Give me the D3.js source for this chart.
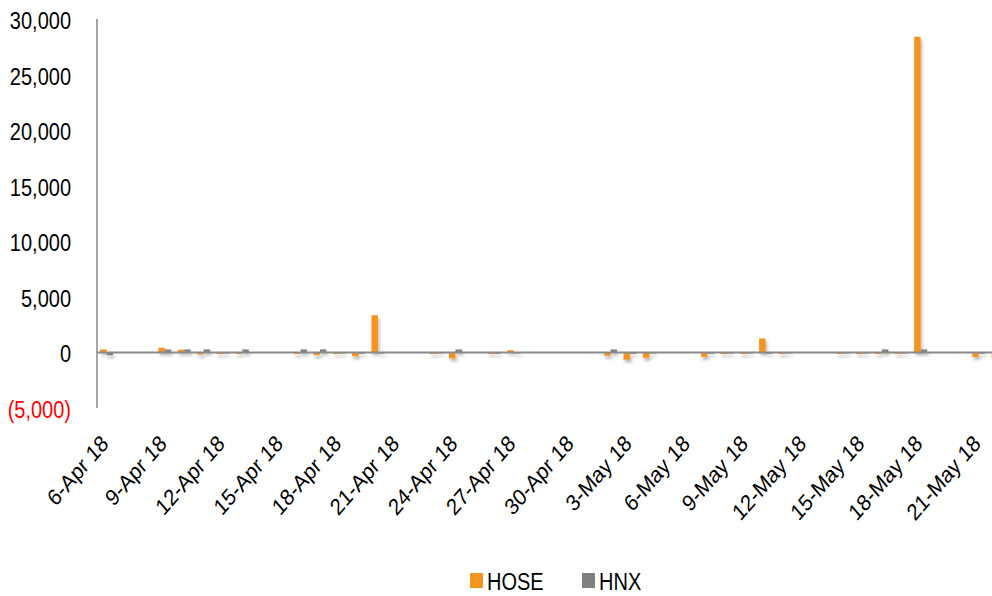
<!DOCTYPE html>
<html>
<head>
<meta charset="utf-8">
<script src="https://cdn.jsdelivr.net/npm/d3@7"></script>
<style>
  html, body { margin: 0; padding: 0; background: #fff; }
  svg { display: block; }
  text { font-family: "Liberation Sans", Arial, sans-serif; font-size: 20px; fill: #000; }
</style>
</head>
<body>
<script>
// ---- data ----
const dates = ["2018-04-06","2018-04-09","2018-04-10","2018-04-11","2018-04-12","2018-04-13",
  "2018-04-16","2018-04-17","2018-04-18","2018-04-19","2018-04-20","2018-04-23","2018-04-24",
  "2018-04-26","2018-04-27","2018-05-02","2018-05-03","2018-05-04","2018-05-07","2018-05-08",
  "2018-05-09","2018-05-10","2018-05-11","2018-05-14","2018-05-15","2018-05-16","2018-05-17",
  "2018-05-18","2018-05-21","2018-05-22"];
const hose = [270, 420, 240, -200, -150, -150, -150, -250, -150, -350, 3350, -150, -540,
  -150, 200, -300, -650, -480, -400, -150, -150, 1260, -150, -150, -150, -150, -150,
  28400, -400, -500];
const hnx = [-250, 270, 270, 270, -100, 270, 270, 270, -100, -120, -100, -100, 270,
  -120, -100, 270, -120, -100, -120, -100, -100, -120, -100, -100, -100, 270, -100,
  270, -120, -120];
const seriesNames = ["HOSE", "HNX"];
const colors = ["#F7941E", "#808080"];
const yTicks = [-5000, 0, 5000, 10000, 15000, 20000, 25000, 30000];
const axisStart = "2018-04-06", axisEnd = "2018-05-22";
const labelEveryDays = 3;

// ---- chart ----
const W = 992, H = 596;
const svg = d3.select("body").append("svg").attr("width", W).attr("height", H);

const defs = svg.append("defs");
const f = defs.append("filter").attr("id", "shadow").attr("x", "-50%").attr("y", "-50%")
  .attr("width", "200%").attr("height", "200%");
f.append("feDropShadow").attr("dx", 1.5).attr("dy", 3).attr("stdDeviation", 1.6)
  .attr("flood-color", "#000").attr("flood-opacity", 0.28);

const parse = d3.utcParse("%Y-%m-%d");
const fmtDay = d3.utcFormat("%-d-%b %y");
const allDays = d3.utcDay.range(parse(axisStart), d3.utcDay.offset(parse(axisEnd), 1));
const dayKey = d3.utcFormat("%Y-%m-%d");

const slot = 19.38;
const x0 = 97;
const x = d3.scaleBand().domain(allDays.map(dayKey))
  .range([x0, x0 + allDays.length * slot]).padding(0);
const xi = d3.scaleBand().domain(seriesNames).range([3.2, slot - 3.2]).padding(0);
const y = d3.scaleLinear().domain([-5000, 30000]).range([408, 19]);

// bars
const rows = dates.map((d, i) => ({ d, v: [hose[i], hnx[i]] }));
const g = svg.append("g").attr("filter", "url(#shadow)");
seriesNames.forEach((s, si) => {
  g.selectAll(null).data(rows).enter().append("rect")
    .attr("x", r => x(r.d) + xi(s))
    .attr("width", xi.bandwidth())
    .attr("y", r => y(Math.max(0, r.v[si])))
    .attr("height", r => Math.abs(y(r.v[si]) - y(0)))
    .attr("fill", colors[si]);
});

// zero line
svg.append("line").attr("x1", x0).attr("x2", W).attr("y1", y(0)).attr("y2", y(0))
  .attr("stroke", "#8a8a8a").attr("stroke-width", 2);
// y axis line
svg.append("line").attr("x1", x0).attr("x2", x0).attr("y1", y(30000)).attr("y2", y(-5000))
  .attr("stroke", "#8a8a8a").attr("stroke-width", 1.5);

// y labels
const fmtNum = d3.format(",");
svg.selectAll(null).data(yTicks).enter().append("text")
  .attr("transform", v => `translate(71,${y(v) + 2}) scale(1,1.15)`)
  .attr("text-anchor", "end").attr("dominant-baseline", "central")
  .style("fill", v => v < 0 ? "#FF0000" : "#000")
  .text(v => v < 0 ? `(${fmtNum(-v)})` : fmtNum(v));

// x labels
const labelDays = allDays.filter((d, i) => i % labelEveryDays === 0 && d <= parse("2018-05-21"));
svg.selectAll(null).data(labelDays).enter().append("text")
  .attr("transform", d => `translate(${x(dayKey(d)) + x.bandwidth() / 2 + 3},445) scale(1,1.15) rotate(-45)`)
  .attr("text-anchor", "end")
  .text(d => fmtDay(d));

// legend
const legX = [470, 582];
seriesNames.forEach((s, i) => {
  svg.append("rect").attr("x", legX[i]).attr("y", 573).attr("width", 13).attr("height", 15)
    .attr("fill", colors[i]);
  svg.append("text").attr("transform", `translate(${legX[i] + 17},590) scale(1,1.15)`).text(s);
});
</script>
</body>
</html>
